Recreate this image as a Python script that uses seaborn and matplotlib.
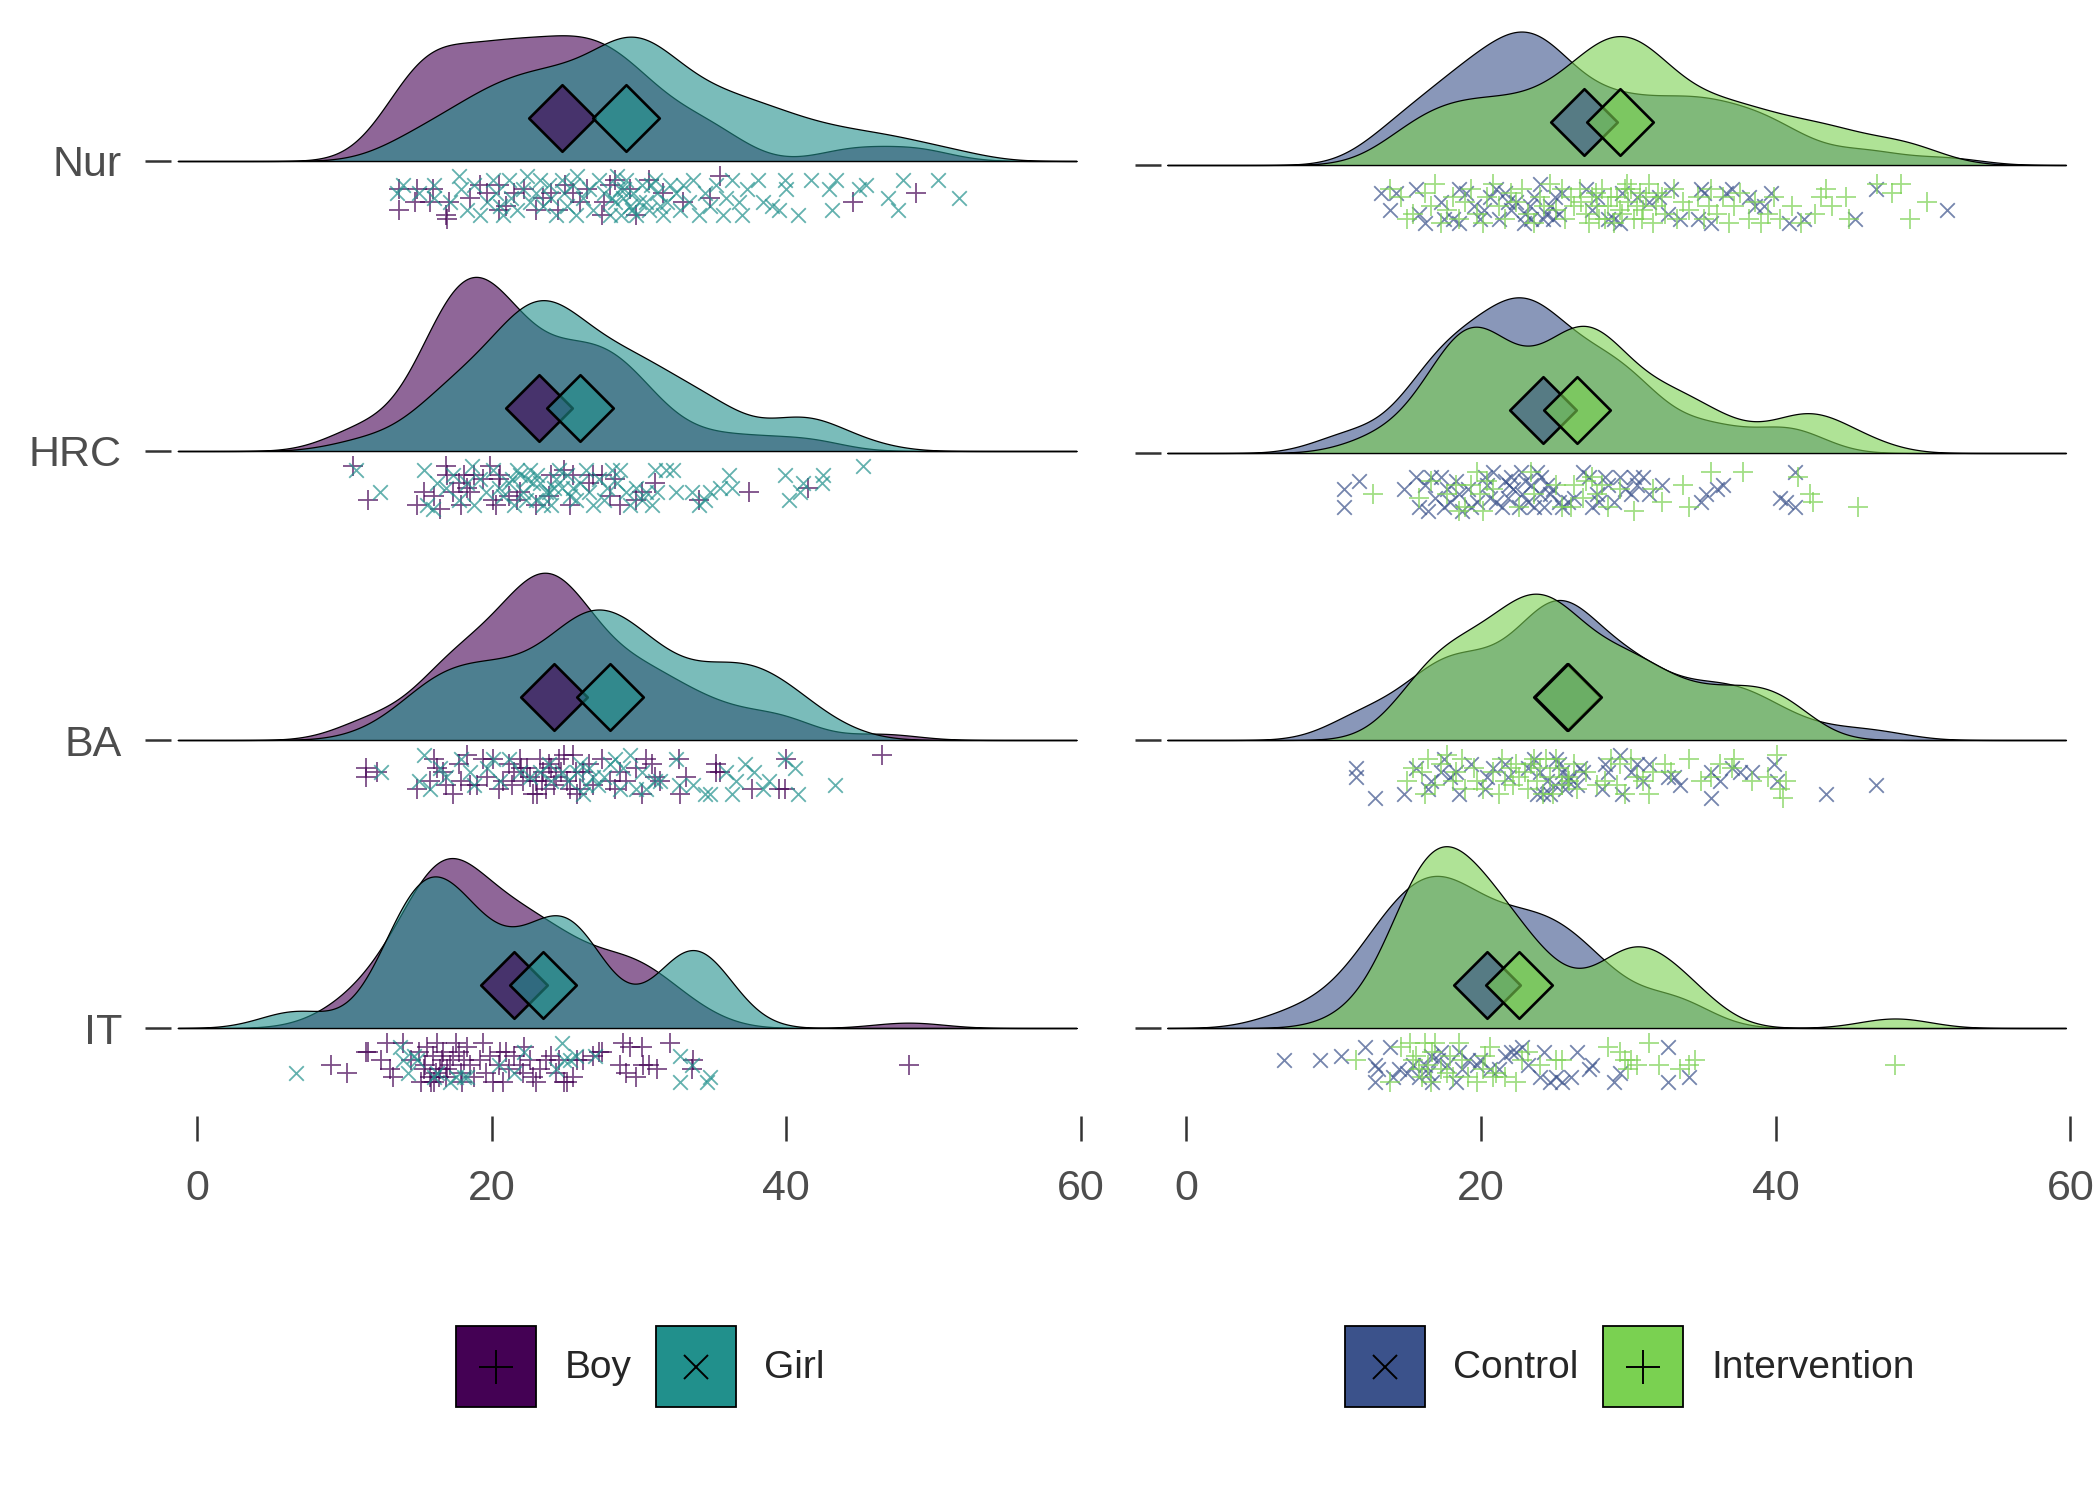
"""raincloud plot of four scores by sex and by treatment group"""

import numpy as np
import matplotlib
matplotlib.use("Agg")
import matplotlib.pyplot as plt
from matplotlib.colors import to_rgba
from matplotlib.legend_handler import HandlerBase
from matplotlib.lines import Line2D
from matplotlib.patches import Patch, Rectangle
import seaborn as sns

# every point is (score, jitter) - jitter 0 = top of the strip, 1 = bottom
nur_boy = [(13.7, .3), (13.7, .8), (14.9, .3), (14.8, .6), (16.0, .3), (15.8, .6), (16.9, .9), (17.0, 1.0),
           (17.1, .6), (19.7, .4), (20.5, .2), (20.5, .8), (21.5, .4), (23.0, .8), (24.0, .4), (25.5, .4),
           (26.0, .6), (27.5, .9), (27.6, .6), (28.0, .2), (28.4, .1), (29.4, .3), (29.8, .9), (30.7, .1),
           (31.6, .4), (33.0, .6), (34.8, .5), (35.5, 0), (44.5, .6), (48.8, .4),
           (18.5, .5), (19.2, .2), (21.0, .7), (22.2, .3), (23.5, .5), (24.5, .8), (25.0, .2), (26.5, .3)]
nur_girl = [(13.6, .4), (14.0, .2), (15.1, .4), (16.1, .2), (16.1, .5), (17.2, .6), (17.8, 0), (17.9, .3),
            (18.3, .8), (18.8, .2), (19.2, .9), (19.7, .6), (20.1, .1), (20.3, .4), (20.6, .7), (20.8, .9),
            (21.2, .1), (21.3, .5), (21.7, .8), (22.1, .3), (22.4, 0), (22.6, .6), (23.0, .4), (23.3, .1),
            (23.5, .7), (23.9, .2), (24.0, .5), (24.4, .9), (24.8, .1), (24.9, .4), (25.1, .7), (25.5, .2),
            (25.7, .9), (25.8, 0), (26.2, .5), (26.6, .3), (26.9, .8), (27.3, .1), (27.6, .4), (28.0, .9),
            (28.4, .6), (28.5, 0), (28.7, .3), (28.9, .5), (29.1, .1), (29.4, .7), (29.6, .4), (29.8, .9),
            (30.2, .2), (30.5, .6), (30.7, .8), (31.1, .1), (31.2, .4), (31.6, .9), (31.9, .6), (32.1, .2),
            (32.5, .4), (32.8, .8), (33.0, .2), (33.4, .6), (33.7, .1), (34.1, .9), (34.5, .4), (34.8, .7),
            (35.2, .2), (35.7, .9), (35.9, .5), (36.3, .1), (36.8, .6), (37.0, .9), (37.3, .3), (38.1, .1),
            (38.4, .6), (39.0, .7), (39.5, .8), (39.9, .1), (40.0, .3), (40.8, .9), (41.7, .1), (42.9, .3),
            (43.1, .8), (43.4, .1), (44.9, .3), (45.4, .2), (46.9, .5), (47.6, .8), (47.9, .1), (50.3, .1),
            (51.7, .5), (28.2, .5), (29.0, .3), (29.5, .8), (30.0, .6), (30.8, .2), (28.8, .9), (31.4, .7)]
nur_control = [(13.2, .3), (14.2, .3), (13.8, .7), (15.6, .2), (15.8, .8), (16.2, 1.0), (17.3, .5), (17.5, .9),
               (18.1, .9), (18.5, .2), (18.5, 1.0), (19.5, .6), (19.9, .9), (20.6, .4), (21.0, .2), (21.2, .9),
               (21.6, .3), (22.0, .7), (22.4, .5), (23.0, .8), (23.4, .9), (23.6, .4), (24.2, .9), (24.7, .6),
               (24.9, .9), (25.3, .8), (25.5, .3), (27.1, .2), (27.5, .7), (27.9, .4), (28.6, .9), (29.0, .9),
               (29.4, 1.0), (29.6, .3), (30.6, .4), (31.4, .5), (32.1, .4), (32.7, .8), (32.9, .2), (33.5, .9),
               (34.7, .9), (34.9, .2), (35.1, .3), (35.6, 1.0), (36.6, .3), (37.0, .2), (38.2, .4), (38.6, .6),
               (39.2, .6), (39.7, .3), (40.9, 1.0), (41.9, .9), (45.4, .9), (46.8, .2), (51.6, .7),
               (21.8, .5), (23.3, .6), (24.4, .8), (25.0, .4), (20.2, .7), (24.0, .1), (22.9, 1.0), (19.0, .3)]
nur_intervention = [(13.8, .2), (14.6, .4), (15.0, .9), (15.4, .8), (16.2, .3), (16.6, .6), (16.9, .1), (17.3, 1.0),
                    (17.7, .7), (18.1, .4), (18.5, .9), (18.9, .5), (19.3, .2), (19.7, .8), (20.1, 1.0), (20.4, .4),
                    (20.8, .1), (21.2, .6), (21.6, .9), (22.0, .3), (22.4, .5), (22.8, .2), (23.2, .8), (23.6, 1.0),
                    (24.0, .4), (24.3, .6), (24.7, .1), (25.1, .7), (25.5, .2), (25.7, .9), (26.1, .4), (26.3, .6),
                    (26.7, .2), (27.1, .8), (27.3, 1.0), (27.5, .4), (27.9, .6), (28.2, .2), (28.4, .9), (28.8, .4),
                    (29.0, 1.0), (29.4, .7), (29.8, .2), (30.0, .5), (30.4, .9), (30.8, .3), (31.0, .7), (31.4, .1),
                    (31.7, 1.0), (31.9, .6), (32.3, .4), (32.5, .8), (33.1, .2), (33.3, .9), (33.7, .5), (34.1, .7),
                    (34.7, .4), (35.1, .9), (35.5, .6), (35.6, .2), (36.0, .8), (36.4, .4), (36.8, 1.0), (37.2, .6),
                    (37.6, .3), (38.2, .9), (38.6, .5), (39.0, 1.0), (39.5, .8), (39.9, .4), (40.3, .9), (41.1, .6),
                    (41.7, 1.0), (42.7, .8), (43.1, .4), (43.4, .2), (43.8, .6), (44.8, .4), (45.0, .9), (46.9, .1),
                    (47.9, .3), (48.5, .1), (49.1, .9), (50.3, .5), (27.8, .3), (28.6, .6), (29.2, .4), (29.6, .8),
                    (30.2, .2), (30.6, .6), (31.2, .4), (28.0, .9), (29.9, .1), (30.9, .9), (26.8, .5), (32.0, .3)]

hrc_boy = [(10.6, 0), (11.6, .8), (14.9, .9), (15.4, .6), (16.1, .7), (16.5, 1.0), (16.9, 0), (17.0, .2),
           (17.4, .6), (17.8, .4), (17.9, .9), (18.1, .2), (18.5, .6), (18.8, .2), (19.4, .3), (19.9, 0),
           (20.1, .8), (20.5, .3), (20.6, .2), (21.2, .7), (21.7, .8), (21.9, .6), (23.0, .9), (23.9, .7),
           (24.0, .2), (24.9, .1), (25.3, .9), (25.5, .2), (26.6, .4), (26.9, .2), (27.5, .2), (28.0, .7),
           (28.4, .3), (28.7, .9), (29.8, .8), (30.2, .6), (31.1, .4), (34.1, .8), (37.5, .6), (41.5, .5),
           (18.3, .5), (20.3, .9)]
hrc_girl = [(10.8, .1), (12.4, .6), (15.4, .1), (15.6, .9), (16.0, 1.0), (16.3, .4), (16.9, .5), (17.4, .2),
            (17.8, .8), (18.3, .4), (18.7, 0), (18.8, .9), (19.2, .3), (19.6, .6), (20.1, .1), (20.5, .5),
            (20.8, .7), (21.2, .4), (21.5, .9), (21.9, .2), (22.1, .6), (22.4, .3), (22.6, .1), (23.0, .8),
            (23.3, .4), (23.7, .6), (24.0, .9), (24.4, .3), (24.8, .5), (25.1, .2), (25.5, .5), (25.7, .8),
            (26.0, .4), (26.4, .1), (26.6, .6), (26.9, .9), (27.3, .3), (27.6, .8), (27.8, .5), (28.2, .1),
            (28.5, .4), (28.7, .1), (29.1, .6), (29.4, .9), (29.8, .5), (30.2, .8), (30.5, .6), (30.9, .9),
            (31.1, .1), (31.2, .6), (31.8, .1), (32.3, .1), (32.5, .6), (33.6, .6), (34.1, .9), (34.5, .8),
            (34.8, .6), (35.5, .5), (36.1, .2), (36.3, .5), (39.9, .2), (40.2, .8), (40.9, .6), (41.1, .4),
            (42.4, .4), (42.5, .2), (45.2, 0),
            (21.4, .3), (22.3, .8), (23.1, .2), (23.5, .9), (24.2, .5), (24.6, .1), (25.3, .7), (22.8, .4),
            (23.9, .6), (21.7, .1)]
hrc_control = [(10.7, .5), (10.7, .9), (11.7, .3), (14.8, .5), (15.6, .2), (15.8, .9), (16.2, .4), (16.4, 1.0),
               (16.6, .2), (16.9, .7), (17.3, .2), (17.5, .9), (17.7, .5), (17.9, .8), (18.3, .3), (18.5, .6),
               (18.7, 1.0), (19.1, .5), (19.3, .9), (19.7, .8), (20.3, .2), (20.4, .4), (20.6, .7), (20.8, .1),
               (21.0, .8), (21.4, .9), (21.6, .3), (21.8, .7), (22.0, .2), (22.2, .5), (22.6, .9), (22.8, .6),
               (23.2, .8), (23.4, .4), (23.8, .1), (24.0, .6), (24.3, .9), (24.5, .4), (24.7, .6), (24.9, .5),
               (25.3, .8), (25.5, .9), (25.9, .8), (26.3, .7), (26.9, .1), (27.3, .2), (27.5, .9), (27.9, .6),
               (28.0, .8), (28.4, .2), (28.6, .4), (29.0, .8), (29.4, .2), (29.8, .5), (30.2, .6), (30.4, .2),
               (30.6, .4), (31.0, .2), (31.4, .6), (32.3, .4), (34.9, .8), (35.3, .6), (36.0, .5), (36.4, .4),
               (40.3, .7), (40.7, .8), (41.3, .9), (41.3, .1),
               (21.9, .4), (23.0, .3), (23.6, .9), (24.1, .2), (22.7, .1)]
hrc_intervention = [(12.7, .6), (15.8, .7), (16.6, .3), (17.7, .6), (18.3, .4), (18.5, 1.0), (18.9, .9), (19.3, .4),
                    (19.7, .1), (19.9, .6), (20.1, 1.0), (20.4, .3), (20.8, .5), (22.6, .9), (23.4, .1), (23.6, .6),
                    (25.1, .4), (25.5, .9), (26.1, .9), (26.3, .4), (26.9, .7), (27.1, .3), (27.5, .2), (27.9, .6),
                    (28.2, .4), (28.6, .9), (29.4, .5), (30.4, 1.0), (31.7, .5), (32.3, .8), (33.7, .4), (34.1, .9),
                    (35.6, .1), (37.8, .1), (41.5, .2), (42.3, .6), (42.5, .8), (45.6, .9)]

ba_boy = [(11.5, .3), (11.5, .5), (12.2, .4), (14.9, .8), (15.8, .6), (16.1, .1), (16.3, .3), (16.7, .4),
          (16.9, .7), (17.4, .9), (17.8, .2), (17.9, .6), (18.3, 0), (18.5, .7), (19.0, .7), (19.4, .1),
          (19.7, .5), (20.1, .1), (20.5, .8), (20.8, .6), (21.2, .2), (21.5, .4), (21.9, .1), (22.1, .6),
          (22.4, .3), (22.8, .9), (23.0, .6), (23.3, .1), (23.5, .4), (23.7, .8), (24.0, .3), (24.4, .5),
          (24.9, 0), (25.1, .6), (25.5, 0), (25.7, .4), (25.8, .9), (26.0, .8), (26.2, .4), (26.6, .2),
          (26.9, .7), (27.5, .1), (28.0, .6), (28.4, .8), (28.7, .4), (29.1, .6), (29.8, .3), (30.2, .9),
          (30.5, .1), (30.9, .2), (31.1, .5), (31.4, .6), (32.7, .1), (32.8, .9), (33.2, .5), (35.2, .4),
          (35.2, .2), (35.5, .4), (37.7, .8), (39.5, .8), (39.9, .8), (40.0, .1), (46.5, 0),
          (21.4, .7), (22.6, .5), (23.1, .9), (23.9, .2), (24.2, .7), (24.7, .4), (25.3, .8), (22.0, .3),
          (24.6, .1), (23.4, .6)]
ba_girl = [(12.5, .4), (15.1, .6), (15.4, 0), (15.8, .8), (16.5, .3), (16.9, .5), (17.9, .1), (18.5, .4),
           (18.8, .7), (19.7, .3), (20.1, .1), (20.6, .6), (21.2, .1), (21.9, .4), (22.6, .5), (23.3, .4),
           (23.9, .2), (24.0, .6), (24.8, .4), (25.8, .4), (26.6, .3), (26.9, .5), (28.0, .2), (28.4, .1),
           (28.7, .8), (29.4, 0), (29.8, .8), (30.2, .4), (30.5, .8), (31.1, .6), (31.4, .6), (32.5, .1),
           (32.7, .7), (33.7, .7), (34.5, .9), (34.8, .9), (35.9, .4), (36.3, .9), (36.6, .6), (37.2, .2),
           (38.8, .6), (39.9, .1), (40.6, .3), (40.8, .9), (43.3, .7), (27.2, .7), (28.9, .3), (26.2, .9),
           (37.8, .4), (38.4, .8), (25.2, .6), (26.0, .2), (27.6, .5), (26.4, .7)]
ba_control = [(11.5, .3), (11.5, .5), (12.8, 1.0), (14.8, .9), (15.6, .3), (16.4, .8), (16.6, .6), (17.3, .4),
              (17.5, .1), (17.9, .5), (18.3, .4), (18.5, .9), (19.3, .2), (20.3, .8), (20.4, .5), (20.8, .3),
              (21.6, .2), (21.8, .5), (23.2, .3), (23.6, .1), (23.8, .9), (24.2, .9), (24.5, .6), (24.7, .9),
              (25.1, .1), (25.5, .4), (25.7, .8), (25.9, .6), (26.5, .7), (26.9, .4), (28.2, .8), (28.4, .2),
              (28.6, .4), (29.4, 0), (29.6, .9), (30.2, .4), (30.6, .2), (31.0, .6), (31.4, .2), (32.7, .5),
              (33.1, .5), (33.5, .7), (35.6, .4), (35.6, 1.0), (36.2, .6), (37.0, .3), (37.6, .4), (38.4, .4),
              (39.9, .2), (40.1, .6), (43.4, .9), (46.8, .7),
              (24.0, .4), (25.3, .2), (26.7, .3), (25.0, .7), (26.0, .5)]
ba_intervention = [(15.0, .6), (15.4, .3), (16.0, .4), (16.2, .9), (16.4, .1), (16.9, .7), (17.3, .2), (17.7, 0),
                   (18.1, .6), (18.3, .4), (18.7, .1), (18.9, .8), (19.5, .3), (19.7, .6), (20.1, .8), (20.8, .4),
                   (21.2, .9), (21.4, .1), (21.6, .6), (22.0, .3), (22.4, .2), (22.6, .5), (23.2, .8), (23.6, .1),
                   (24.0, .3), (24.2, .9), (24.7, .5), (25.1, .1), (25.5, .7), (25.9, .5), (26.3, .2), (26.5, .8),
                   (27.1, .4), (27.9, .7), (28.4, .6), (28.8, .1), (29.2, .7), (29.4, .2), (29.8, .9), (30.2, .1),
                   (30.6, .5), (31.0, .6), (31.4, .9), (31.7, .4), (32.5, .2), (32.9, .4), (34.1, .1), (34.9, .6),
                   (35.6, .5), (36.2, .2), (37.0, .3), (37.2, .1), (38.4, .6), (39.5, .5), (40.1, 0), (40.3, .8),
                   (40.7, .6), (40.5, 1.0),
                   (22.2, .7), (23.0, .4), (23.8, .6), (24.4, .1), (25.3, .3), (24.9, .9), (23.4, .2), (26.0, .6)]

it_boy = [(9.1, .5), (10.2, .7), (11.5, .2), (11.6, .2), (12.5, .4), (12.9, 0), (13.1, .6), (13.3, .8),
          (14.0, 0), (14.5, .4), (15.1, .2), (15.2, .9), (15.4, .6), (15.6, .1), (15.8, .8), (16.0, .3),
          (16.1, .9), (16.3, 0), (16.5, .6), (16.7, .2), (16.9, .8), (17.2, .5), (17.6, 0), (17.8, .2),
          (17.9, .7), (18.1, .4), (18.3, .1), (18.5, .5), (18.8, .8), (19.2, .4), (19.4, 0), (19.6, .7),
          (19.9, .3), (20.1, .9), (20.5, .5), (20.6, .2), (20.8, .9), (21.0, .2), (21.2, .6), (21.5, .3),
          (21.9, .5), (22.1, .7), (22.2, .1), (22.6, .4), (22.8, .8), (23.0, .9), (23.3, .6), (23.7, .4),
          (24.0, .3), (24.4, .7), (24.6, .4), (24.9, .9), (25.1, .9), (25.5, .8), (25.8, .4), (26.2, .4),
          (26.9, .3), (27.3, .2), (27.5, .2), (28.7, .5), (28.9, 0), (29.1, .7), (29.4, .1), (29.8, .8),
          (30.2, .1), (30.3, .5), (30.7, .5), (31.2, .6), (32.1, 0), (33.6, .6), (33.7, .4), (48.3, .5),
          (15.5, .5), (16.2, .7), (16.6, .4), (17.0, .6), (15.9, .9), (17.4, .3), (18.0, .9), (16.4, .8)]
it_girl = [(6.7, .7), (13.8, .1), (14.0, .4), (14.3, .7), (14.7, .3), (14.9, .4), (16.1, .8), (16.3, .7),
           (17.2, .9), (17.6, .8), (18.1, .8), (18.3, .8), (22.2, .2), (24.4, .6), (24.8, 0), (24.9, .4),
           (25.3, .4), (25.7, .3), (32.8, .3), (32.8, .9), (34.6, .9), (34.8, .8),
           (20.5, .5), (21.5, .7), (27.0, .3), (33.6, .5)]
it_control = [(6.6, .4), (9.1, .4), (10.5, .3), (12.1, .1), (12.8, .5), (13.0, .6), (12.8, .9), (13.8, .1),
              (14.0, .8), (14.4, .6), (15.0, .7), (15.4, .5), (15.8, .8), (16.2, .5), (16.4, .7), (16.6, .3),
              (16.7, .9), (17.1, .4), (17.3, .2), (17.7, .5), (18.3, .9), (18.5, .2), (18.7, .6), (19.1, .4),
              (19.7, .5), (19.9, .4), (20.6, .6), (21.2, .6), (21.6, .3), (22.0, .2), (22.4, .2), (22.8, .1),
              (23.2, .5), (24.0, .8), (24.3, .2), (24.7, .9), (25.1, .8), (25.5, .9), (26.1, .8), (26.5, .2),
              (27.3, .6), (27.5, .5), (29.0, .9), (29.4, .7), (32.7, .1), (32.7, .9), (34.1, .8)]
it_intervention = [(11.5, .4), (13.8, .9), (14.6, .1), (15.2, 0), (15.4, .4), (15.6, .3), (15.8, .6), (16.0, .8),
                   (16.2, 0), (16.4, .5), (16.6, .9), (16.7, .2), (16.9, 0), (17.3, .6), (17.7, .7), (17.9, .3),
                   (18.1, .8), (18.5, 0), (18.7, .4), (19.1, .8), (19.7, .9), (20.1, .6), (20.3, .3), (20.6, .1),
                   (20.8, .8), (21.0, .7), (21.6, .8), (22.4, .9), (22.8, .4), (23.2, .2), (24.0, .5), (25.1, .4),
                   (25.5, .4), (28.6, .1), (29.4, .2), (29.8, .4), (30.0, .6), (30.2, .4), (30.6, .5), (31.4, 0),
                   (32.1, .5), (33.5, .6), (34.1, .5), (34.5, .4), (48.1, .5)]

rows = ["Nur", "HRC", "BA", "IT"]

# group means (the diamonds)
boy_mean = [24.8, 23.2, 24.2, 21.5]
girl_mean = [29.1, 26.0, 28.0, 23.5]
control_mean = [27.0, 24.2, 25.8, 20.4]
intervention_mean = [29.4, 26.5, 25.9, 22.6]

x_ticks = [0, 20, 40, 60]

BOY, GIRL = "#440154", "#21908C"
CONTROL, INTERVENTION = "#3B528B", "#7AD151"

FIG_W, FIG_H = 2100, 1500
K = 2580.0   # pixels per density unit
BW = 2.4     # joint kde bandwidth

panels = [
    dict(left=171.2, baselines=[161, 451, 740, 1028], labels=True,
         groups=[("Boy", BOY, "+", [nur_boy, hrc_boy, ba_boy, it_boy], boy_mean),
                 ("Girl", GIRL, "x", [nur_girl, hrc_girl, ba_girl, it_girl], girl_mean)]),
    dict(left=1160.6, baselines=[165, 453, 740, 1028], labels=False,
         groups=[("Control", CONTROL, "x", [nur_control, hrc_control, ba_control, it_control], control_mean),
                 ("Intervention", INTERVENTION, "+",
                  [nur_intervention, hrc_intervention, ba_intervention, it_intervention], intervention_mean)]),
]


class KeyHandler(HandlerBase):
    """legend key: filled box with the point shape on top"""

    def __init__(self, marker):
        super().__init__()
        self.marker = marker

    def create_artists(self, legend, orig_handle, xdescent, ydescent, width, height, fontsize, trans):
        box = Rectangle((-xdescent, -ydescent), width, height, facecolor=orig_handle.get_facecolor(),
                        edgecolor="black", linewidth=1.3, transform=trans)
        ms = 24 if self.marker == "+" else 17
        mk = Line2D([width / 2 - xdescent], [height / 2 - ydescent], ls="", marker=self.marker,
                    color="black", ms=ms, mew=1.4, transform=trans)
        return [box, mk]


sns.set_theme(style="white")
plt.rcParams["font.family"] = ["Liberation Sans", "DejaVu Sans"]

fig = plt.figure(figsize=(FIG_W / 100, FIG_H / 100), dpi=100)

for p in panels:
    for i, row in enumerate(rows):
        base = p["baselines"][i]
        ax = fig.add_axes([p["left"] / FIG_W, 1 - (base + 88) / FIG_H, 914.2 / FIG_W, 273 / FIG_H])
        ax.set_facecolor("none")

        for label, color, marker, data, means in p["groups"]:
            xs = np.array([v for v, _ in data[i]])
            sns.kdeplot(x=xs, ax=ax, bw_method=BW / np.std(xs, ddof=1), cut=30, clip=(-1.3, 59.7),
                        gridsize=600, fill=True, color=color, alpha=0.6, edgecolor="black", linewidth=0.9)

        for label, color, marker, data, means in p["groups"]:
            xs = np.array([v for v, _ in data[i]])
            js = np.array([j for _, j in data[i]])
            size = 200 if marker == "+" else 110
            ax.scatter(xs, -(15 + 43 * js) / K, marker=marker, s=size, color=color,
                       alpha=0.7, linewidths=1.3, zorder=3)

        for label, color, marker, data, means in p["groups"]:
            ax.scatter([means[i]], [43 / K], marker="D", s=1150, facecolor=to_rgba(color, 0.6),
                       edgecolor="black", linewidths=1.9, zorder=4)

        ax.set_xlim(-1.75, 60.3)
        ax.set_ylim(-88 / K, 185 / K)
        ax.set(xlabel="", ylabel="")
        for s in ax.spines.values():
            s.set_visible(False)

        ax.set_yticks([0])
        ax.set_yticklabels([row if p["labels"] else ""])
        ax.tick_params(axis="y", left=True, length=18.5, width=1.8, color="#333333",
                       pad=17, labelsize=31, labelcolor="#4d4d4d")
        ax.set_xticks(x_ticks)
        if i == len(rows) - 1:
            ax.tick_params(axis="x", bottom=True, length=18, width=1.8, color="#333333",
                           pad=20, labelsize=31, labelcolor="#4d4d4d")
        else:
            ax.tick_params(axis="x", bottom=False, labelbottom=False)

for p, cx in zip(panels, [0.305, 0.776]):
    handles = [Patch(facecolor=c) for _, c, _, _, _ in p["groups"]]
    hmap = {h: KeyHandler(g[2]) for h, g in zip(handles, p["groups"])}
    labels = [g[0] for g in p["groups"]]
    fig.legend(handles=handles, labels=labels, handler_map=hmap, loc="center",
               bbox_to_anchor=(cx, 0.089), ncol=2, frameon=False, fontsize=28,
               handlelength=2.06, handleheight=2.79, handletextpad=0.72,
               columnspacing=0.64, borderpad=0)

fig.savefig("out.png", dpi=100, facecolor="white")
plt.close(fig)
